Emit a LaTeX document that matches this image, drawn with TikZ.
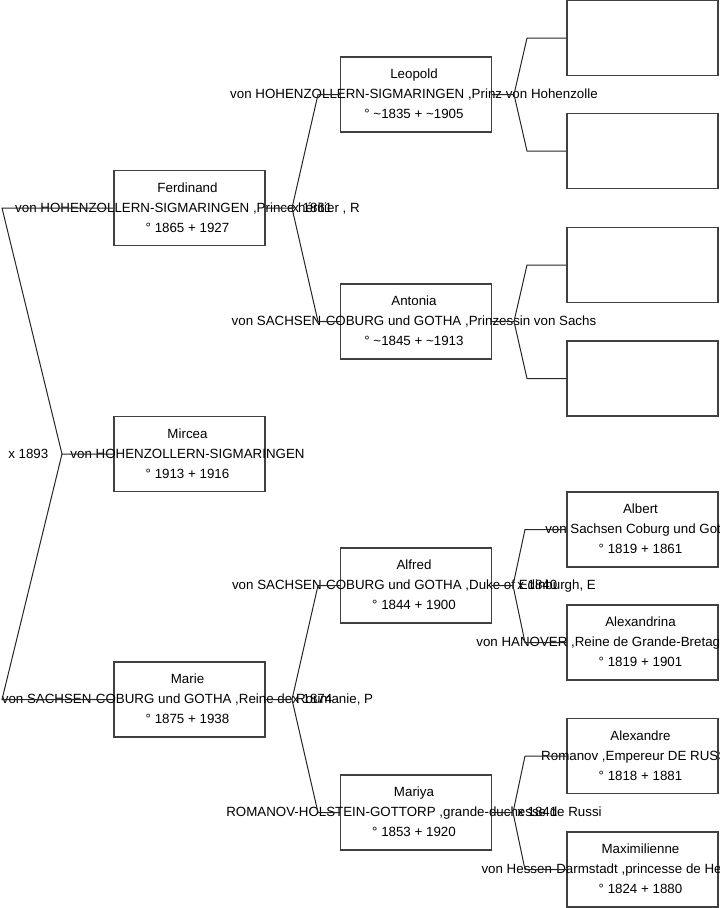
\documentclass[tikz,border=0pt]{standalone}
\usepackage{fontspec}
\setmainfont{Liberation Sans}
\begin{document}
\begin{tikzpicture}[x=0.75pt,y=-0.75pt,
  pbox/.style={draw=black!75,line width=0.9pt,minimum width=113.25pt,minimum height=56.25pt,inner sep=0pt},
  ptext/.style={inner sep=0pt,anchor=base,font=\fontsize{10}{12}\selectfont,text=black},
  link/.style={draw=black!85,line width=0.75pt},
  mlabel/.style={inner sep=0pt,anchor=base west,font=\fontsize{10}{12}\selectfont,text=black}]
\useasboundingbox (0,0) rectangle (719,908);
\newcommand\person[6]{%
  \node[pbox] (#1) at (#2,#3) {};
  \node[ptext] (#1-n) at (#2-2,#3-16) {#4};
  \node[ptext] (#1-s) at (#2-2,#3+4) {#5};
  \node[ptext] (#1-d) at (#2-2,#3+24) {#6};}
% column 1
\person{ferd}{189.5}{208}{Ferdinand}{von HOHENZOLLERN-SIGMARINGEN ,Prince h\'eritier , R}{° 1865 + 1927}
\person{mirc}{189.5}{454}{Mircea}{von HOHENZOLLERN-SIGMARINGEN}{° 1913 + 1916}
\person{marie}{189.5}{699.5}{Marie}{von SACHSEN-COBURG und GOTHA ,Reine de Roumanie, P}{° 1875 + 1938}
% column 2
\person{leo}{416}{94.5}{Leopold}{von HOHENZOLLERN-SIGMARINGEN ,Prinz von Hohenzolle}{° \char`\~1835 + \char`\~1905}
\person{anto}{416}{321.5}{Antonia}{von SACHSEN-COBURG und GOTHA ,Prinzessin von Sachs}{° \char`\~1845 + \char`\~1913}
\person{alfr}{416}{585.5}{Alfred}{von SACHSEN-COBURG und GOTHA ,Duke of Edinburgh, E}{° 1844 + 1900}
\person{mary}{416}{812.5}{Mariya}{ROMANOV-HOLSTEIN-GOTTORP ,grande-duchesse de Russi}{° 1853 + 1920}
% column 3
\node[pbox] (e1) at (642.5,38) {};
\node[pbox] (e2) at (642.5,151) {};
\node[pbox] (e3) at (642.5,265) {};
\node[pbox] (e4) at (642.5,378.5) {};
\person{albe}{642.5}{529.5}{Albert}{von Sachsen Coburg und Gotha}{° 1819 + 1861}
\person{alex}{642.5}{642.5}{Alexandrina}{von HANOVER ,Reine de Grande-Bretagne et d'Irlande}{° 1819 + 1901}
\person{alxr}{642.5}{756}{Alexandre}{Romanov ,Empereur DE RUSSIE}{° 1818 + 1881}
\person{maxi}{642.5}{869.5}{Maximilienne}{von Hessen-Darmstadt ,princesse de Hesse et du Rhi}{° 1824 + 1880}
% root fork
\coordinate (r0) at (62,454);
\coordinate (r1) at (2,208);
\coordinate (r2) at (2,699.5);
\draw[link] (mirc.west) -- (r0) -- (r1) -- (ferd.west);
\draw[link] (r0) -- (r2) -- (marie.west);
\node[mlabel] (m1893) at (8,458) {x 1893};
% middle forks
\coordinate (fv) at (292,208);
\coordinate (fa) at (318,94.5);
\coordinate (fb) at (318,321.5);
\draw[link] (ferd.east) -- (fv) -- (fa) -- (leo.west);
\draw[link] (fv) -- (fb) -- (anto.west);
\node[mlabel] (m1861) at (292,212) {x 1861};
\coordinate (mv) at (292,699.5);
\coordinate (ma) at (318,585.5);
\coordinate (mb) at (318,812.5);
\draw[link] (marie.east) -- (mv) -- (ma) -- (alfr.west);
\draw[link] (mv) -- (mb) -- (mary.west);
\node[mlabel] (m1874) at (292,703.5) {x 1874};
% right forks
\coordinate (lv) at (514,94.5);
\coordinate (la) at (527,38);
\coordinate (lb) at (527,151);
\draw[link] (leo.east) -- (lv) -- (la) -- (e1.west);
\draw[link] (lv) -- (lb) -- (e2.west);
\coordinate (av) at (514,321.5);
\coordinate (aa) at (527,265);
\coordinate (ab) at (527,378.5);
\draw[link] (anto.east) -- (av) -- (aa) -- (e3.west);
\draw[link] (av) -- (ab) -- (e4.west);
\coordinate (alv) at (513,585.5);
\coordinate (ala) at (525,529.5);
\coordinate (alb) at (525,642.5);
\draw[link] (alfr.east) -- (alv) -- (ala) -- (albe.west);
\draw[link] (alv) -- (alb) -- (alex.west);
\node[mlabel] (m1840) at (517,589.5) {x 1840};
\coordinate (yv) at (513,812.5);
\coordinate (ya) at (525,756);
\coordinate (yb) at (525,869.5);
\draw[link] (mary.east) -- (yv) -- (ya) -- (alxr.west);
\draw[link] (yv) -- (yb) -- (maxi.west);
\node[mlabel] (m1841) at (517,816.5) {x 1841};
\end{tikzpicture}
\end{document}
